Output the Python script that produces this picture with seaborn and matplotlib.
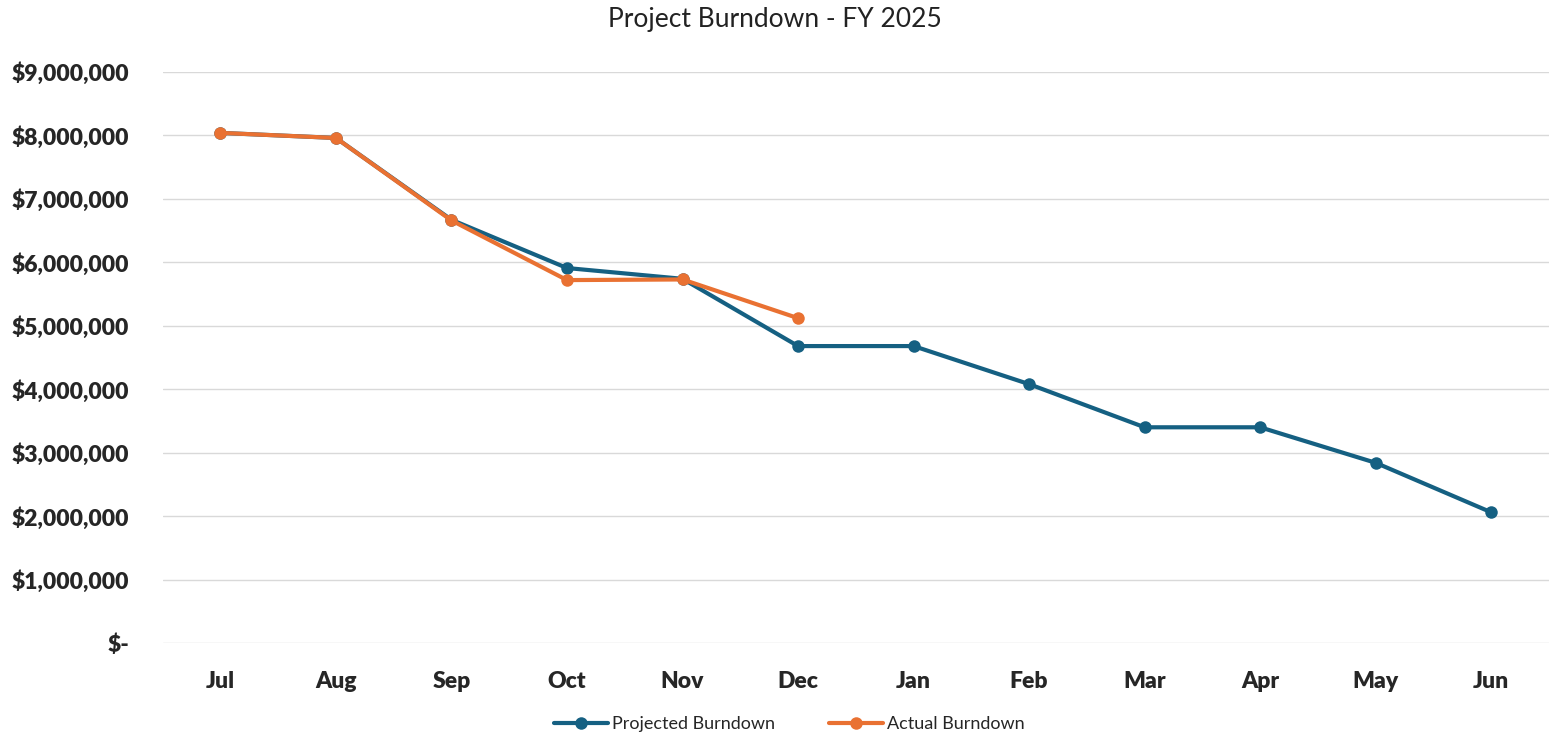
import numpy as np
import pandas as pd
import matplotlib
matplotlib.use("Agg")
import matplotlib.pyplot as plt
import matplotlib.ticker as mticker
import seaborn as sns

months = ['Jul', 'Aug', 'Sep', 'Oct', 'Nov', 'Dec', 'Jan', 'Feb', 'Mar', 'Apr', 'May', 'Jun']
projected = [8040000, 7960000, 6670000, 5910000, 5740000, 4680000, 4680000,
             4080000, 3400000, 3400000, 2840000, 2060000]
actual_months = ['Jul', 'Aug', 'Sep', 'Oct', 'Nov', 'Dec']
actual = [8040000, 7960000, 6660000, 5720000, 5730000, 5120000]

BLUE = '#156082'
ORANGE = '#E97132'

df = pd.concat([
    pd.DataFrame({'Month': months, 'Value': projected, 'Series': 'Projected Burndown'}),
    pd.DataFrame({'Month': actual_months, 'Value': actual, 'Series': 'Actual Burndown'}),
])

sns.set_theme(style='white')
plt.rcParams['font.family'] = ['Lato', 'DejaVu Sans']

fig = plt.figure(figsize=(15.49, 7.42), dpi=100)
ax = fig.add_axes([0.105, 0.1334, 0.895, 0.7696])

sns.lineplot(data=df, x='Month', y='Value', hue='Series',
             palette={'Projected Burndown': BLUE, 'Actual Burndown': ORANGE},
             marker='o', markersize=9, markeredgewidth=0, linewidth=3,
             sort=False, ax=ax)

ax.set_xlim(-0.5, len(months) - 0.5)
ax.set_ylim(0, 9000000)
ax.yaxis.set_major_locator(mticker.MultipleLocator(1000000))

def money(v, pos):
    if v == 0:
        return '$-'
    return '${:,.0f}'.format(v)

ax.yaxis.set_major_formatter(mticker.FuncFormatter(money))
ax.grid(axis='y', color='#d9d9d9', linewidth=1)
ax.set_axisbelow(True)
for s in ax.spines.values():
    s.set_visible(False)

ax.tick_params(axis='both', length=0, labelsize=16.5)
ax.tick_params(axis='y', pad=24)
ax.tick_params(axis='x', pad=20)
for lbl in ax.get_xticklabels() + ax.get_yticklabels():
    lbl.set_fontweight('heavy')
ax.set_xlabel('')
ax.set_ylabel('')

fig.suptitle('Project Burndown - FY 2025', y=0.99, fontsize=19, color='#222222')

ax.legend(loc='upper center', bbox_to_anchor=(0.452, -0.115), ncol=2,
          frameon=False, fontsize=13, handlelength=3, columnspacing=3,
          handletextpad=0.2, borderaxespad=0)

fig.savefig('out.png', dpi=100)
